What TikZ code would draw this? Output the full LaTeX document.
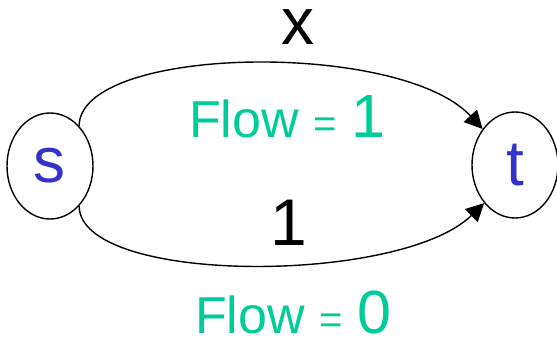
\documentclass[tikz,border=0pt]{standalone}
\usepackage{fontspec}
\setmainfont{Liberation Sans}
\usetikzlibrary{arrows.meta,shapes.geometric}
\definecolor{nodeblue}{RGB}{51,51,204}
\definecolor{flowgreen}{RGB}{0,204,153}
\tikzset{
  vertex/.style={draw, ellipse, line width=1.4pt, minimum width=86pt, minimum height=106pt, inner sep=0pt, text=nodeblue, font=\fontsize{64}{64}\selectfont},
  edge/.style={line width=1.4pt, -{Triangle[length=18pt,width=18pt]}},
  capacity/.style={anchor=base, inner sep=0pt, font=\fontsize{66}{66}\selectfont},
  flowlbl/.style={anchor=base, inner sep=0pt, text=flowgreen, font=\fontsize{52}{52}\selectfont}
}
\newcommand{\flowtext}[1]{Flow {\fontsize{40}{40}\selectfont =} {\fontsize{61}{61}\selectfont #1}}
\begin{document}
\begin{tikzpicture}[x=1pt,y=-1pt]
\useasboundingbox (0,0) rectangle (557,337);
\node[vertex] (s) at (50,166) {s};
\node[vertex] (t) at (515,165) {t};
\draw[edge] (s.54) .. controls (80,45) and (400,40) .. (t.132);
\draw[edge] (s.306) .. controls (80,285) and (400,285) .. (t.231);
\node[capacity] (x) at (298,45) {x};
\node[capacity] (one) at (289,245) {1};
\node[flowlbl] (f1) at (287,137) {\flowtext{1}};
\node[flowlbl] (f0) at (293,333) {\flowtext{0}};
\end{tikzpicture}
\end{document}
